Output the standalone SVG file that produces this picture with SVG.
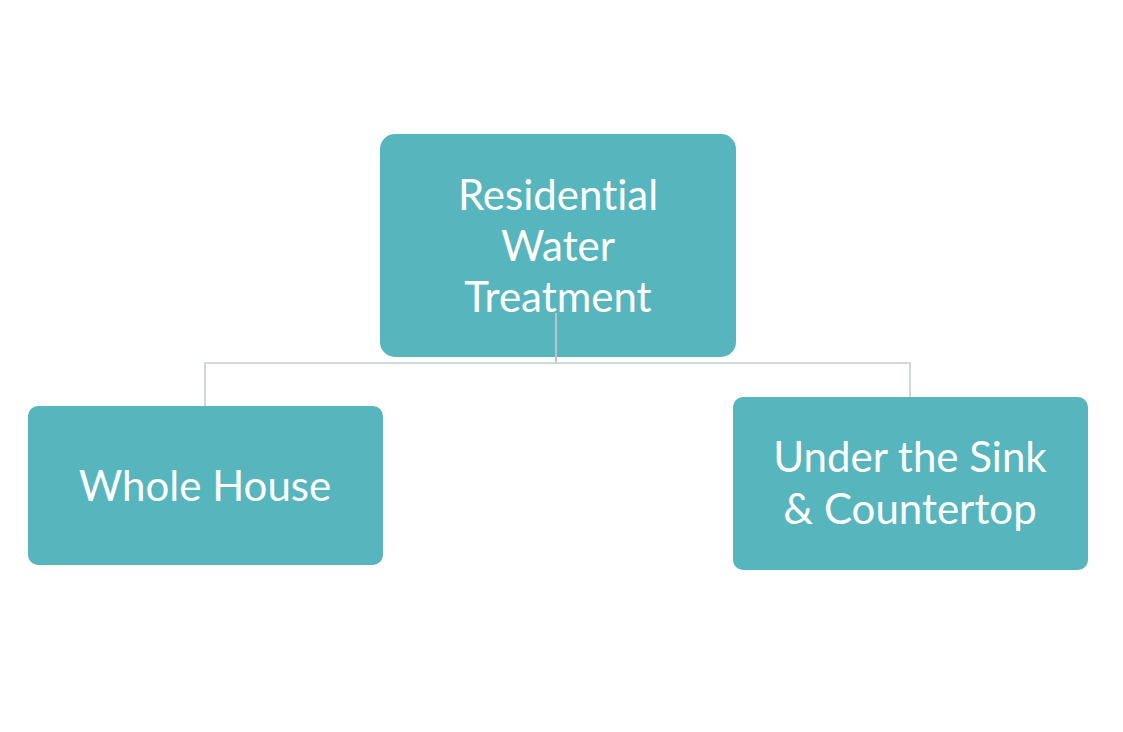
<svg xmlns="http://www.w3.org/2000/svg" width="1123" height="732" viewBox="0 0 1123 732">
<style>
.box{fill:#57b6bd;}
.lbl{fill:#ffffff;font-family:Lato,"Noto Sans",sans-serif;font-size:42px;text-anchor:middle;font-variant-ligatures:none;font-feature-settings:"liga" 0;}
.conn{stroke:#cfd8dc;stroke-width:2;fill:none;}
</style>
<rect width="1123" height="732" fill="#ffffff"/>
<g id="node-root">
<rect class="box" x="380" y="134" width="356" height="223" rx="15"/>
<text class="lbl" x="558" y="210">Residential</text>
<text class="lbl" x="558" y="261">Water</text>
<text class="lbl" x="558" y="312">Treatment</text>
</g>
<g id="node-whole">
<rect class="box" x="28" y="406" width="355" height="159" rx="10"/>
<text class="lbl" x="205" y="501">Whole House</text>
</g>
<g id="node-sink">
<rect class="box" x="733" y="397" width="355" height="173" rx="10"/>
<text class="lbl" x="910" y="472">Under the Sink</text>
<text class="lbl" x="910" y="524">&amp; Countertop</text>
</g>
<g id="connectors">
<path class="conn" d="M556 313 V363" stroke-width="1.2" style="stroke:#b8c4c9"/>
<path class="conn" d="M205 406 V363 H910 V397"/>
</g>
</svg>
